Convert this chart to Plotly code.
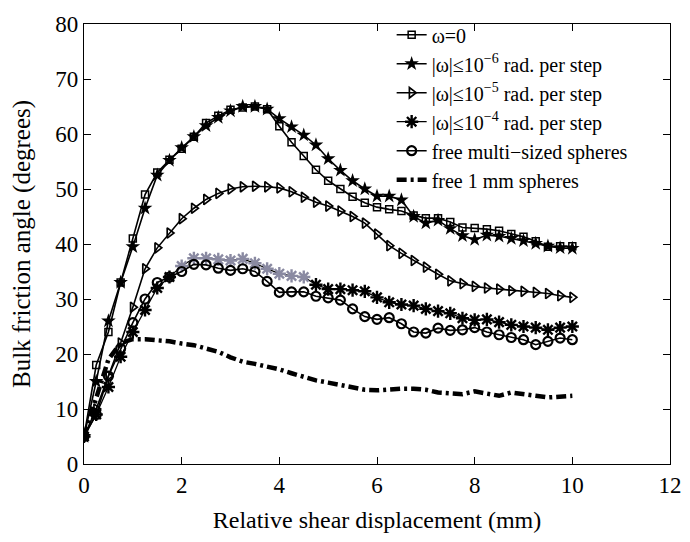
import plotly.graph_objects as go

x = [0, 0.25, 0.5, 0.75, 1.0, 1.25, 1.5, 1.75, 2.0, 2.25, 2.5, 2.75, 3.0, 3.25, 3.5, 3.75,
     4.0, 4.25, 4.5, 4.75, 5.0, 5.25, 5.5, 5.75, 6.0, 6.25, 6.5, 6.75, 7.0, 7.25, 7.5, 7.75,
     8.0, 8.25, 8.5, 8.75, 9.0, 9.25, 9.5, 9.75, 10.0]

w0 = [5, 18, 24, 33, 41, 49, 53, 55.3, 57.3, 59.5, 62, 63.3, 64.4, 64.8, 65, 64.5,
      61.4, 58.5, 56, 53.5, 51.5, 50, 48.6, 47.5, 46.7, 46.3, 46, 45.2, 44.7, 44.7, 44, 43,
      42.9, 42.7, 42.4, 41.8, 41.3, 40.5, 39.5, 39.6, 39.6]
w6 = [5, 15, 26, 33, 39.5, 46.5, 52.5, 55.2, 57.5, 59.5, 61.5, 63, 64.2, 65, 65, 64.5,
      62.8, 61.3, 59.8, 58, 55.5, 53.4, 51.5, 50, 48.7, 48.7, 48, 45, 43.8, 44.3, 42.8, 41.5,
      40.8, 41.6, 41.4, 41, 40.6, 40.1, 39.6, 39.3, 39.2]
w5 = [5, 10, 16, 22, 28.5, 35.5, 39.3, 42, 44.6, 46.5, 48.1, 49.2, 50, 50.4, 50.5, 50.4,
      50.2, 49.5, 48.5, 47.6, 46.9, 46, 45, 43.8, 41.8, 39.7, 38.3, 37, 35.8, 34.5, 33.3, 32.8,
      32.3, 32, 31.8, 31.5, 31.4, 31.2, 31, 30.6, 30.3]
w4 = [5, 9, 14, 19.5, 24, 28, 32, 34, 36, 37.4, 37.4, 37.2, 37, 37.3, 36.5, 35.5,
      34.6, 34.2, 34, 32.6, 31.8, 31.8, 31.6, 31.4, 30.3, 29.4, 29, 28.8, 28.2, 27.8, 27.4, 26.5,
      26.2, 26.3, 25.8, 25.3, 25, 24.8, 24.4, 24.8, 25]
multi = [5, 9, 16, 21, 25.7, 30, 33, 34, 35, 36.3, 36.2, 35.6, 35.2, 35.5, 35, 33.2,
         31.2, 31.3, 31.3, 30.5, 30.2, 29.8, 28.2, 26.8, 26.3, 26.6, 25.5, 24, 23.8, 24.7, 24.3, 24.4,
         24.8, 24, 23.5, 23, 22.6, 21.7, 22.3, 22.9, 22.6]
free1 = [5, 12, 19, 22, 22.7, 22.7, 22.6, 22.3, 21.9, 21.6, 21, 20.4, 19.4, 18.6, 18.2, 17.8,
         17.2, 16.5, 15.8, 15.2, 14.8, 14.3, 13.8, 13.5, 13.4, 13.6, 13.7, 13.7, 13.5, 13, 12.9, 12.7,
         13.2, 12.9, 12.4, 13, 12.8, 12.4, 12.1, 12.3, 12.4]

names = ["ω=0",
         "|ω|≤10<sup>−6</sup> rad. per step",
         "|ω|≤10<sup>−5</sup> rad. per step",
         "|ω|≤10<sup>−4</sup> rad. per step",
         "free multi−sized spheres",
         "free 1 mm spheres"]

SERIF = "Liberation Serif"

fig = go.Figure()
fig.add_trace(go.Scatter(x=x, y=w0, name=names[0], mode="lines+markers",
                         line=dict(color="black", width=1.6),
                         marker=dict(symbol="square-open", size=7, color="black",
                                     line=dict(width=1.5, color="black"))))
fig.add_trace(go.Scatter(x=x, y=w6, name=names[1], mode="lines+markers",
                         line=dict(color="black", width=1.6),
                         marker=dict(symbol="star", size=11, color="black")))
fig.add_trace(go.Scatter(x=x, y=w5, name=names[2], mode="lines+markers",
                         line=dict(color="black", width=1.6),
                         marker=dict(symbol="triangle-right-open", size=9, color="black",
                                     line=dict(width=1.7, color="black"))))
w4_col = ["#8a8aa2" if 2.0 <= xv <= 4.5 else "black" for xv in x]
fig.add_trace(go.Scatter(x=x, y=w4, name=names[3], mode="lines+markers",
                         line=dict(color="black", width=1.3),
                         marker=dict(symbol="asterisk-open", size=11, color=w4_col,
                                     line=dict(width=2.4, color=w4_col))))
fig.add_trace(go.Scatter(x=x, y=multi, name=names[4], mode="lines+markers",
                         line=dict(color="black", width=1.6),
                         marker=dict(symbol="circle-open", size=9, color="black",
                                     line=dict(width=2.2, color="black"))))
fig.add_trace(go.Scatter(x=x, y=free1, name=names[5], mode="lines",
                         line=dict(color="black", width=4.5, dash="10px,4px,3px,4px")))

axis_common = dict(showline=True, linecolor="black", linewidth=1.2, mirror="ticks",
                   ticks="inside", ticklen=7, tickcolor="black", showgrid=False,
                   zeroline=False, automargin=False, ticklabeloverflow="allow",
                   tickfont=dict(family=SERIF, size=23, color="black"))
fig.update_xaxes(range=[0, 12], dtick=2,
                 title=dict(text="Relative shear displacement (mm)",
                            font=dict(family=SERIF, size=24, color="black"),
                            standoff=14),
                 **axis_common)
fig.update_yaxes(range=[0, 80], dtick=10,
                 title=dict(text="Bulk friction angle (degrees)",
                            font=dict(family=SERIF, size=25, color="black"),
                            standoff=26),
                 **axis_common)
# the page body adds an 8px offset, so the figure is sized to fit inside the window
fig.update_layout(width=682, height=526, plot_bgcolor="white", paper_bgcolor="white",
                  margin=dict(l=76, r=20, t=16, b=70, autoexpand=False),
                  legend=dict(x=0.525, y=1.02, xanchor="left", yanchor="top",
                              bgcolor="rgba(0,0,0,0)", tracegroupgap=0,
                              font=dict(family=SERIF, size=20, color="black"),
                              itemwidth=30))
fig.write_html("out.html")
